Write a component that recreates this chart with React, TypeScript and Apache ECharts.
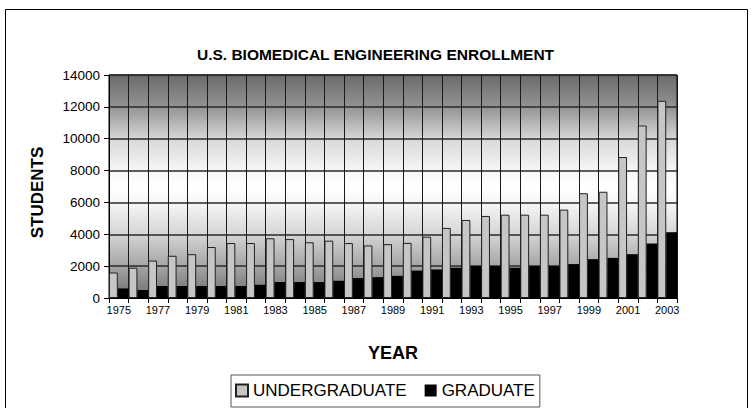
import React, { useEffect, useRef } from "react";
import * as echarts from "echarts";

const years = [
  "1975", "1976", "1977", "1978", "1979", "1980", "1981", "1982", "1983", "1984",
  "1985", "1986", "1987", "1988", "1989", "1990", "1991", "1992", "1993", "1994",
  "1995", "1996", "1997", "1998", "1999", "2000", "2001", "2002", "2003",
];
const undergraduate = [
  1600, 1900, 2350, 2650, 2750, 3200, 3450, 3450, 3750, 3700,
  3500, 3600, 3450, 3300, 3380, 3460, 3850, 4400, 4900, 5150,
  5230, 5230, 5230, 5550, 6580, 6670, 8850, 10830, 12380,
];
const graduate = [
  600, 500, 750, 750, 750, 750, 750, 830, 1000, 1000,
  1000, 1080, 1250, 1310, 1390, 1720, 1790, 1900, 2000, 2000,
  1900, 2000, 2000, 2130, 2440, 2520, 2750, 3420, 4130,
];
const yTicks = { min: 0, max: 14000, interval: 2000 };

const FONT = "'Liberation Sans', Arial, sans-serif";

export default function App() {
  const ref = useRef<HTMLDivElement>(null);
  useEffect(() => {
    if (!ref.current) return;
    const chart = echarts.init(ref.current, undefined, { renderer: "svg" });
    chart.setOption({
      animation: false,
      backgroundColor: "#ffffff",
      textStyle: { fontFamily: FONT, color: "#000" },
      title: {
        text: "U.S. BIOMEDICAL ENGINEERING ENROLLMENT",
        left: "center",
        top: 41,
        textStyle: { fontFamily: FONT, fontSize: 15.5, fontWeight: "bold", color: "#000" },
      },
      graphic: [
        {
          type: "rect",
          shape: { x: 5.5, y: 9.5, width: 742, height: 420 },
          style: { fill: "none", stroke: "#000", lineWidth: 1 },
          silent: true,
        },
      ],
      legend: {
        data: ["UNDERGRADUATE", "GRADUATE"],
        left: 231,
        top: 375,
        orient: "horizontal",
        borderColor: "#555",
        borderWidth: 1,
        padding: [7, 5, 8, 4],
        itemWidth: 12,
        itemHeight: 12,
        itemGap: 18,
        icon: "rect",
        textStyle: { fontFamily: FONT, fontSize: 17, color: "#000" },
      },
      grid: {
        left: 109,
        right: 74,
        top: 75,
        bottom: 110,
        show: true,
        borderColor: "#000",
        borderWidth: 1,
        backgroundColor: new echarts.graphic.LinearGradient(0, 0, 0, 1, [
          { offset: 0, color: "#6a6a6a" },
          { offset: 0.14, color: "#929292" },
          { offset: 0.29, color: "#d8d8d8" },
          { offset: 0.43, color: "#f7f7f7" },
          { offset: 0.5, color: "#ffffff" },
          { offset: 0.57, color: "#f7f7f7" },
          { offset: 0.71, color: "#d6d6d6" },
          { offset: 0.86, color: "#a4a4a4" },
          { offset: 1, color: "#6e6e6e" },
        ]),
      },
      xAxis: {
        type: "category",
        data: years,
        name: "YEAR",
        nameLocation: "middle",
        nameGap: 46,
        nameTextStyle: { fontFamily: FONT, fontSize: 18, fontWeight: "bold", color: "#000" },
        axisLine: { show: true, lineStyle: { color: "#000", width: 1 } },
        axisTick: { show: true, interval: 0, length: 5, lineStyle: { color: "#000" } },
        axisLabel: { interval: 1, fontSize: 11, margin: 6, color: "#000", fontFamily: FONT },
        splitLine: { show: true, interval: 0, lineStyle: { color: "#1a1a1a", width: 1 } },
      },
      yAxis: {
        type: "value",
        min: yTicks.min,
        max: yTicks.max,
        interval: yTicks.interval,
        name: "STUDENTS",
        nameLocation: "middle",
        nameGap: 63,
        nameRotate: 90,
        nameTextStyle: {
          fontFamily: FONT,
          fontSize: 17,
          fontWeight: "bold",
          color: "#000",
          padding: [0, 12, 0, 0],
        },
        axisLine: { show: true, lineStyle: { color: "#000", width: 1 } },
        axisTick: { show: true, length: 5, lineStyle: { color: "#000" } },
        axisLabel: {
          fontSize: 13.5,
          margin: 9,
          color: "#000",
          fontFamily: FONT,
          formatter: (v: number) => String(v),
        },
        splitLine: { show: true, lineStyle: { color: "#2a2a2a", width: 1.5 } },
      },
      series: [
        {
          name: "UNDERGRADUATE",
          type: "bar",
          data: undergraduate,
          barWidth: "45%",
          barGap: "0%",
          itemStyle: { color: "#c6c6c6", borderColor: "#222", borderWidth: 1 },
        },
        {
          name: "GRADUATE",
          type: "bar",
          data: graduate,
          barWidth: "55%",
          barGap: "0%",
          itemStyle: { color: "#000" },
        },
      ],
    });
    return () => chart.dispose();
  }, []);
  return (
    <div
      ref={ref}
      style={{ position: "fixed", left: 0, top: 0, width: 751, height: 408 }}
    />
  );
}
